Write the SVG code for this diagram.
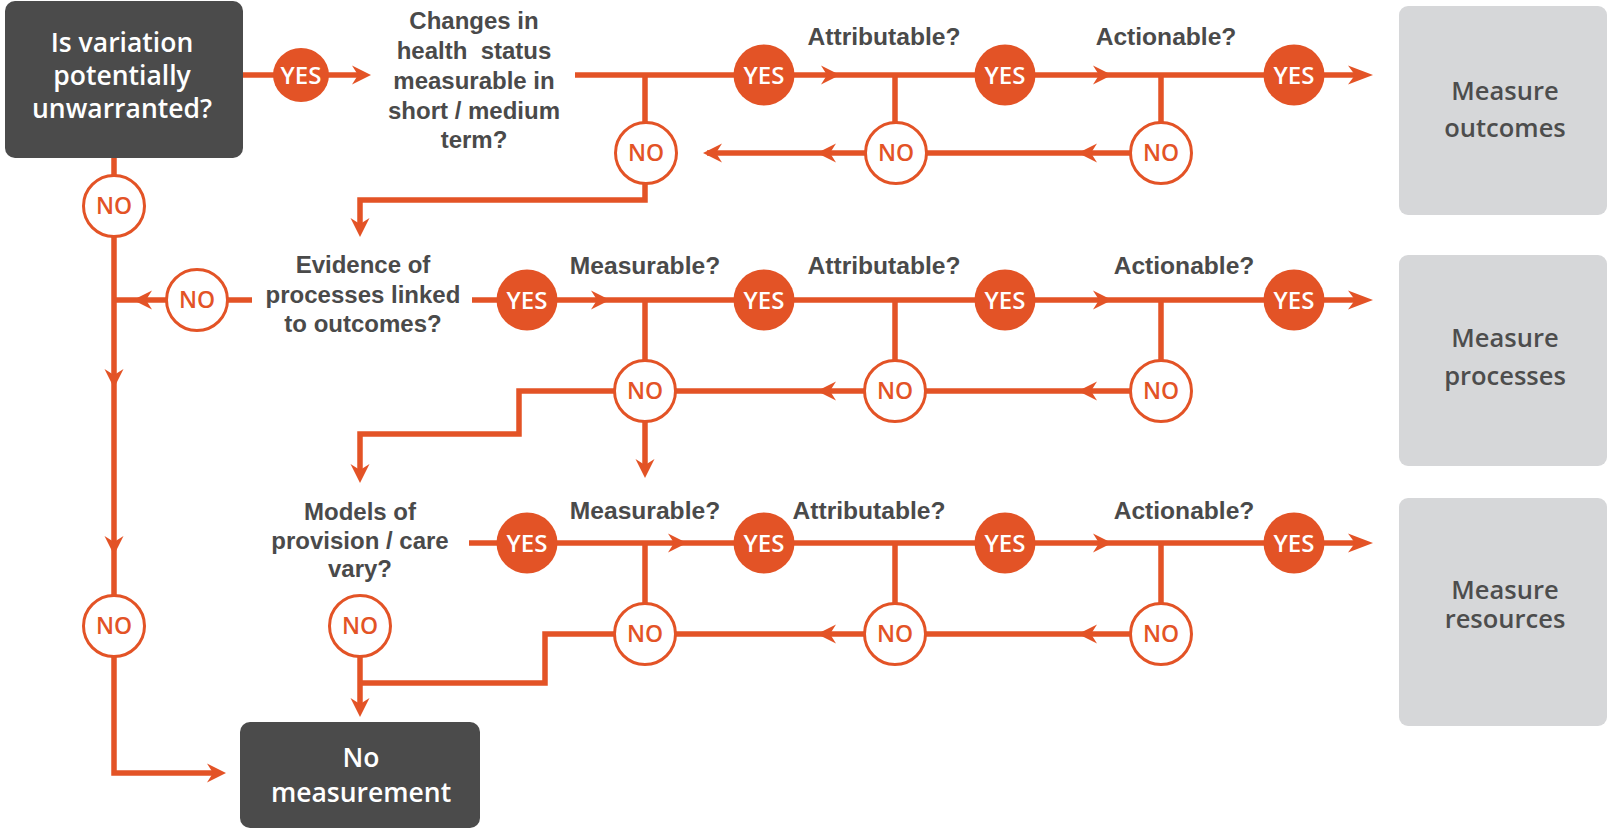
<svg xmlns="http://www.w3.org/2000/svg" width="1608" height="829" viewBox="0 0 1608 829">
  <style>
    .ln { fill: none; stroke: #E35326; stroke-width: 5.5; stroke-linejoin: miter; stroke-linecap: butt; }
    .ah { fill: #E35326; }
    .yes { fill: #E35326; }
    .no { fill: #FFFFFF; stroke: #E35326; stroke-width: 3; }
    .yt { font-family: "Open Sans", "Liberation Sans", sans-serif; font-weight: 600; font-size: 24px; fill: #FFFFFF; text-anchor: middle; }
    .nt { font-family: "Open Sans", "Liberation Sans", sans-serif; font-weight: 600; font-size: 23px; fill: #E35326; text-anchor: middle; }
    .q { font-family: "Liberation Sans", Arial, sans-serif; font-weight: bold; font-size: 24px; fill: #4A4A4A; text-anchor: middle; }
    .lb { font-family: "Liberation Sans", Arial, sans-serif; font-weight: bold; font-size: 24.6px; fill: #4A4A4A; text-anchor: middle; }
    .dark { fill: #4B4B4B; }
    .grey { fill: #D6D7D9; }
    .bt { font-family: "Open Sans", "Liberation Sans", sans-serif; font-weight: 600; font-size: 26.5px; fill: #FFFFFF; text-anchor: middle; }
    .gt { font-family: "Open Sans", "Liberation Sans", sans-serif; font-weight: 600; font-size: 25.5px; fill: #4D4D4D; text-anchor: middle; }
  </style>
  <defs>
    <!-- notched arrowheads, tip at the origin, pointing along +x -->
    <path id="a" class="ah" d="M0,0 L-19,-9.5 L-13,0 L-19,9.5 Z"/>
    <path id="ae" class="ah" d="M0,0 L-25,-9.5 L-18,0 L-25,9.5 Z"/>
  </defs>

  <rect width="1608" height="829" fill="#FFFFFF"/>

  <!-- connectors -->
  <g id="connectors">
    <!-- left column: start to no measurement -->
    <path class="ln" d="M114,158 V773 H214"/>
    <!-- row 1 -->
    <path class="ln" d="M243,75 H362"/>
    <path class="ln" d="M575,75 H1362"/>
    <path class="ln" d="M645,75 V124 M895,75 V124 M1161,75 V124"/>
    <path class="ln" d="M1130,153 H707"/>
    <path class="ln" d="M645,182 V200 H360 V228"/>
    <!-- row 2 -->
    <path class="ln" d="M252,300 H114"/>
    <path class="ln" d="M472,300 H1362"/>
    <path class="ln" d="M645,300 V362 M895,300 V362 M1161,300 V362"/>
    <path class="ln" d="M1130,391 H519 V434 H360 V474"/>
    <path class="ln" d="M645,420 V469"/>
    <!-- row 3 -->
    <path class="ln" d="M469,543 H1362"/>
    <path class="ln" d="M645,543 V605 M895,543 V605 M1161,543 V605"/>
    <path class="ln" d="M1130,634 H545 V683 H360"/>
    <path class="ln" d="M360,655 V708"/>

    <!-- arrowheads -->
    <use href="#a" transform="translate(371,75)"/>
    <use href="#a" transform="translate(840,75)"/>
    <use href="#a" transform="translate(1112,75)"/>
    <use href="#ae" transform="translate(1373,75)"/>
    <use href="#a" transform="translate(1078,153) rotate(180)"/>
    <use href="#a" transform="translate(817,153) rotate(180)"/>
    <use href="#a" transform="translate(703,153) rotate(180)"/>
    <use href="#a" transform="translate(360,237) rotate(90)"/>

    <use href="#a" transform="translate(133,300) rotate(180)"/>
    <use href="#a" transform="translate(610,300)"/>
    <use href="#a" transform="translate(1112,300)"/>
    <use href="#ae" transform="translate(1373,300)"/>
    <use href="#a" transform="translate(1078,391) rotate(180)"/>
    <use href="#a" transform="translate(817,391) rotate(180)"/>
    <use href="#a" transform="translate(360,483) rotate(90)"/>
    <use href="#a" transform="translate(645,478) rotate(90)"/>

    <use href="#a" transform="translate(687,543)"/>
    <use href="#a" transform="translate(1112,543)"/>
    <use href="#ae" transform="translate(1373,543)"/>
    <use href="#a" transform="translate(1078,634) rotate(180)"/>
    <use href="#a" transform="translate(817,634) rotate(180)"/>
    <use href="#a" transform="translate(360,717) rotate(90)"/>

    <use href="#a" transform="translate(114,388) rotate(90)"/>
    <use href="#a" transform="translate(114,555) rotate(90)"/>
    <use href="#a" transform="translate(226,773)"/>
  </g>

  <!-- start question -->
  <g id="start">
    <rect class="dark" x="5" y="1" width="238" height="157" rx="10"/>
    <text class="bt" x="122" y="52">Is variation</text>
    <text class="bt" x="122" y="85">potentially</text>
    <text class="bt" x="122" y="118">unwarranted?</text>
  </g>

  <g id="yes-start">
    <ellipse class="yes" cx="301" cy="75" rx="28" ry="27"/>
    <text class="yt" x="301" y="83.5">YES</text>
  </g>
  <g id="no-start">
    <circle class="no" cx="114" cy="206" r="30.5"/>
    <text class="nt" x="114" y="214">NO</text>
  </g>

  <!-- outcomes question -->
  <g id="q-outcomes">
    <text class="q" x="474" y="29">Changes in</text>
    <text class="q" x="474" y="59" xml:space="preserve">health  status</text>
    <text class="q" x="474" y="89">measurable in</text>
    <text class="q" x="474" y="119">short / medium</text>
    <text class="q" x="474" y="148">term?</text>
  </g>
  <g id="r1-labels">
    <text class="lb" x="884" y="45">Attributable?</text>
    <text class="lb" x="1166" y="45">Actionable?</text>
  </g>
  <g id="r1-yes1"><circle class="yes" cx="764" cy="75" r="30.5"/><text class="yt" x="764" y="83.5">YES</text></g>
  <g id="r1-yes2"><circle class="yes" cx="1005" cy="75" r="30.5"/><text class="yt" x="1005" y="83.5">YES</text></g>
  <g id="r1-yes3"><circle class="yes" cx="1294" cy="75" r="30.5"/><text class="yt" x="1294" y="83.5">YES</text></g>
  <g id="r1-no1"><circle class="no" cx="646" cy="153" r="30.5"/><text class="nt" x="646" y="161">NO</text></g>
  <g id="r1-no2"><circle class="no" cx="896" cy="153" r="30.5"/><text class="nt" x="896" y="161">NO</text></g>
  <g id="r1-no3"><circle class="no" cx="1161" cy="153" r="30.5"/><text class="nt" x="1161" y="161">NO</text></g>
  <g id="measure-outcomes">
    <rect class="grey" x="1399" y="6" width="208" height="209" rx="9"/>
    <text class="gt" x="1505" y="100">Measure</text>
    <text class="gt" x="1505" y="137">outcomes</text>
  </g>

  <!-- processes question -->
  <g id="q-processes">
    <text class="q" x="363" y="273">Evidence of</text>
    <text class="q" x="363" y="303">processes linked</text>
    <text class="q" x="363" y="332">to outcomes?</text>
  </g>
  <g id="r2-no0"><circle class="no" cx="197" cy="300" r="30.5"/><text class="nt" x="197" y="308">NO</text></g>
  <g id="r2-labels">
    <text class="lb" x="645" y="274">Measurable?</text>
    <text class="lb" x="884" y="274">Attributable?</text>
    <text class="lb" x="1184" y="274">Actionable?</text>
  </g>
  <g id="r2-yes0"><circle class="yes" cx="527" cy="300" r="30.5"/><text class="yt" x="527" y="308.5">YES</text></g>
  <g id="r2-yes1"><circle class="yes" cx="764" cy="300" r="30.5"/><text class="yt" x="764" y="308.5">YES</text></g>
  <g id="r2-yes2"><circle class="yes" cx="1005" cy="300" r="30.5"/><text class="yt" x="1005" y="308.5">YES</text></g>
  <g id="r2-yes3"><circle class="yes" cx="1294" cy="300" r="30.5"/><text class="yt" x="1294" y="308.5">YES</text></g>
  <g id="r2-no1"><circle class="no" cx="645" cy="391" r="30.5"/><text class="nt" x="645" y="399">NO</text></g>
  <g id="r2-no2"><circle class="no" cx="895" cy="391" r="30.5"/><text class="nt" x="895" y="399">NO</text></g>
  <g id="r2-no3"><circle class="no" cx="1161" cy="391" r="30.5"/><text class="nt" x="1161" y="399">NO</text></g>
  <g id="measure-processes">
    <rect class="grey" x="1399" y="255" width="208" height="211" rx="9"/>
    <text class="gt" x="1505" y="347">Measure</text>
    <text class="gt" x="1505" y="385">processes</text>
  </g>

  <!-- resources question -->
  <g id="q-resources">
    <text class="q" x="360" y="520">Models of</text>
    <text class="q" x="360" y="549">provision / care</text>
    <text class="q" x="360" y="577">vary?</text>
  </g>
  <g id="r3-labels">
    <text class="lb" x="645" y="519">Measurable?</text>
    <text class="lb" x="869" y="519">Attributable?</text>
    <text class="lb" x="1184" y="519">Actionable?</text>
  </g>
  <g id="r3-yes0"><circle class="yes" cx="527" cy="543" r="30.5"/><text class="yt" x="527" y="551.5">YES</text></g>
  <g id="r3-yes1"><circle class="yes" cx="764" cy="543" r="30.5"/><text class="yt" x="764" y="551.5">YES</text></g>
  <g id="r3-yes2"><circle class="yes" cx="1005" cy="543" r="30.5"/><text class="yt" x="1005" y="551.5">YES</text></g>
  <g id="r3-yes3"><circle class="yes" cx="1294" cy="543" r="30.5"/><text class="yt" x="1294" y="551.5">YES</text></g>
  <g id="r3-no0"><circle class="no" cx="360" cy="626" r="30.5"/><text class="nt" x="360" y="634">NO</text></g>
  <g id="r3-no1"><circle class="no" cx="645" cy="634" r="30.5"/><text class="nt" x="645" y="642">NO</text></g>
  <g id="r3-no2"><circle class="no" cx="895" cy="634" r="30.5"/><text class="nt" x="895" y="642">NO</text></g>
  <g id="r3-no3"><circle class="no" cx="1161" cy="634" r="30.5"/><text class="nt" x="1161" y="642">NO</text></g>
  <g id="measure-resources">
    <rect class="grey" x="1399" y="498" width="208" height="228" rx="9"/>
    <text class="gt" x="1505" y="599">Measure</text>
    <text class="gt" x="1505" y="628">resources</text>
  </g>

  <g id="no-left2"><circle class="no" cx="114" cy="626" r="30.5"/><text class="nt" x="114" y="634">NO</text></g>

  <!-- terminal -->
  <g id="no-measurement">
    <rect class="dark" x="240" y="722" width="240" height="106" rx="10"/>
    <text class="bt" x="361" y="767">No</text>
    <text class="bt" x="361" y="802">measurement</text>
  </g>
</svg>
